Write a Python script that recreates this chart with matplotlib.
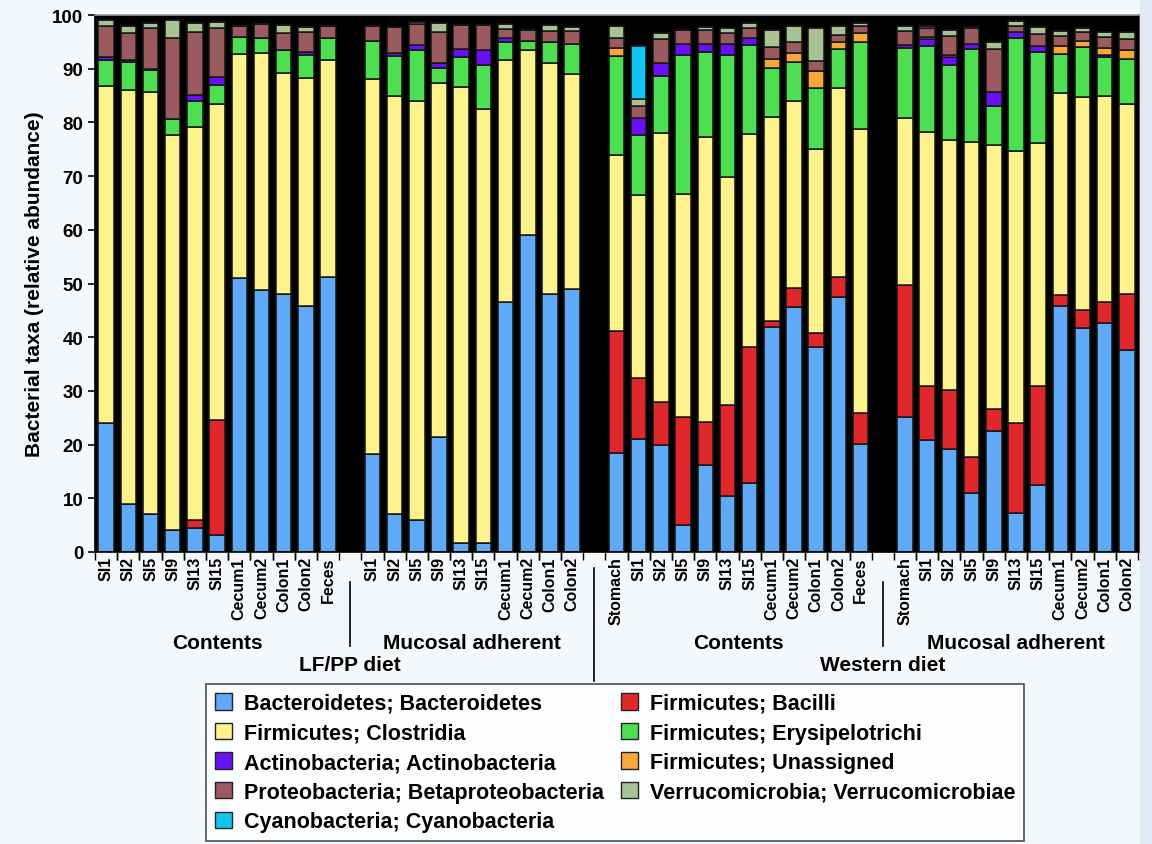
import numpy as np
import matplotlib
matplotlib.use('Agg')
import matplotlib.pyplot as plt
from matplotlib.patches import Rectangle, Patch
from matplotlib.transforms import blended_transform_factory

plt.rcParams['font.family'] = ['Liberation Sans', 'DejaVu Sans']
plt.rcParams['font.weight'] = 'bold'
plt.rcParams['axes.labelweight'] = 'bold'

# sample order: LF/PP contents | LF/PP mucosal | Western contents | Western mucosal
LF_CONT = ['SI1', 'SI2', 'SI5', 'SI9', 'SI13', 'SI15', 'Cecum1', 'Cecum2', 'Colon1', 'Colon2', 'Feces']
LF_MUC = ['SI1', 'SI2', 'SI5', 'SI9', 'SI13', 'SI15', 'Cecum1', 'Cecum2', 'Colon1', 'Colon2']
W_CONT = ['Stomach', 'SI1', 'SI2', 'SI5', 'SI9', 'SI13', 'SI15', 'Cecum1', 'Cecum2', 'Colon1', 'Colon2', 'Feces']
W_MUC = ['Stomach', 'SI1', 'SI2', 'SI5', 'SI9', 'SI13', 'SI15', 'Cecum1', 'Cecum2', 'Colon1', 'Colon2']

# relative abundance (%) per taxon, same sample order as above
bacteroidetes = [24.0, 9.0, 7.0, 4.0, 4.4, 3.2, 51.0, 48.7, 48.0, 45.8, 51.3,
                 18.2, 7.1, 6.0, 21.4, 1.6, 1.6, 46.6, 59.0, 48.0, 49.0,
                 18.5, 21.0, 20.0, 5.1, 16.2, 10.4, 12.8, 41.9, 45.7, 38.1, 47.5, 20.1,
                 25.1, 20.9, 19.2, 11.0, 22.6, 7.2, 12.4, 45.8, 41.8, 42.7, 37.7]
bacilli = [0, 0, 0, 0, 1.6, 21.3, 0, 0, 0, 0, 0,
           0, 0, 0, 0, 0, 0, 0, 0, 0, 0,
           22.6, 11.4, 7.9, 20.0, 8.0, 17.0, 25.3, 1.2, 3.4, 2.6, 3.7, 5.8,
           24.6, 10.0, 10.9, 6.6, 4.0, 16.9, 18.5, 2.0, 3.2, 3.9, 10.4]
clostridia = [62.7, 77.1, 78.6, 73.7, 73.1, 58.9, 41.7, 44.2, 41.3, 42.5, 40.3,
              69.9, 77.9, 78.0, 65.9, 85.0, 80.9, 45.0, 34.5, 43.1, 40.0,
              32.8, 34.0, 50.1, 41.6, 53.0, 42.5, 39.7, 38.0, 34.9, 34.3, 35.3, 52.9,
              31.1, 47.3, 46.7, 58.8, 49.2, 50.6, 45.3, 37.6, 39.8, 38.3, 35.3]
erysipelotrichi = [4.9, 5.2, 4.2, 3.0, 4.9, 3.6, 3.3, 2.9, 4.1, 4.3, 4.1,
                   7.1, 7.3, 9.5, 2.9, 5.6, 8.2, 3.4, 1.7, 3.8, 5.7,
                   18.4, 11.3, 10.6, 25.9, 16.0, 22.7, 16.6, 9.1, 7.3, 11.5, 7.2, 16.1,
                   13.0, 16.1, 13.9, 17.3, 7.3, 21.1, 16.9, 7.3, 9.2, 7.2, 8.5]
actinobacteria = [0.6, 0.4, 0.2, 0, 1.1, 1.4, 0, 0, 0, 0.5, 0,
                  0, 0.6, 0.9, 0.8, 1.5, 2.7, 0.8, 0, 0, 0,
                  0, 3.1, 2.4, 2.0, 1.4, 2.0, 1.3, 0, 0, 0, 0, 0,
                  0.6, 1.2, 1.4, 1.0, 2.5, 1.1, 1.1, 0, 0, 0.5, 0]
unassigned = [0, 0, 0, 0, 0, 0, 0, 0, 0, 0, 0,
              0, 0, 0, 0, 0, 0, 0, 0, 0, 0,
              1.5, 0, 0, 0, 0, 0, 0, 1.6, 1.6, 3.0, 1.3, 1.8,
              0, 0.4, 0.5, 0, 0, 0, 0, 1.6, 1.2, 1.3, 1.6]
betaproteo = [5.7, 5.0, 7.6, 15.1, 11.7, 9.2, 2.0, 2.6, 3.2, 3.7, 2.3,
              2.8, 4.9, 3.9, 5.9, 4.4, 4.7, 1.6, 2.0, 2.2, 2.3,
              2.0, 2.3, 4.5, 2.6, 2.6, 2.0, 1.8, 2.3, 2.0, 2.0, 1.3, 1.3,
              2.7, 1.6, 3.5, 2.8, 8.0, 1.1, 2.3, 1.8, 1.6, 2.0, 2.0]
verrucomicrobiae = [1.2, 1.3, 1.0, 3.3, 1.7, 1.1, 0, 0, 1.5, 1.0, 0,
                    0, 0, 0.4, 1.6, 0, 0, 0.9, 0, 1.0, 0.8,
                    2.1, 1.3, 1.1, 0, 0.6, 0.9, 1.1, 3.2, 3.0, 6.0, 1.7, 0.6,
                    0.8, 0.4, 1.1, 0.3, 1.4, 0.9, 1.2, 1.0, 0.7, 1.0, 1.4]
cyanobacteria = [0] * 11 + [0] * 10 + [0, 9.9] + [0] * 10 + [0] * 11

# bottom -> top stacking order
STACK = [('Bacteroidetes; Bacteroidetes', bacteroidetes, '#5fa9f6'),
         ('Firmicutes; Bacilli', bacilli, '#e0282c'),
         ('Firmicutes; Clostridia', clostridia, '#fdf28c'),
         ('Firmicutes; Erysipelotrichi', erysipelotrichi, '#4ede52'),
         ('Actinobacteria; Actinobacteria', actinobacteria, '#6910f6'),
         ('Firmicutes; Unassigned', unassigned, '#f9a73b'),
         ('Proteobacteria; Betaproteobacteria', betaproteo, '#9a5b5f'),
         ('Verrucomicrobia; Verrucomicrobiae', verrucomicrobiae, '#a9c293'),
         ('Cyanobacteria; Cyanobacteria', cyanobacteria, '#13c4f2')]
COL = {name: c for name, _, c in STACK}

groups = [LF_CONT, LF_MUC, W_CONT, W_MUC]
starts = [0, 12, 23, 36]   # one empty pair of slots between groups
xpos, labels = [], []
for g, s in zip(groups, starts):
    xpos += list(range(s, s + len(g)))
    labels += g
xpos = np.array(xpos, dtype=float)

fig = plt.figure(figsize=(11.52, 8.45), dpi=100, facecolor='#f5f8fb')
fig.patches.append(Rectangle((0.99, 0), 0.01, 1, transform=fig.transFigure,
                             color='#e2ebf5', zorder=0))
ax = fig.add_axes([0.0825, 0.3456, 0.9063, 0.6354])
ax.set_facecolor('black')

bottom = np.zeros(len(xpos))
for name, vals, c in STACK:
    v = np.array(vals, dtype=float)
    ax.bar(xpos, v, bottom=bottom, width=0.7, color=c, edgecolor='#151515', lw=1.1)
    bottom += v

ax.set_xlim(-0.4, 46.55)
ax.set_ylim(0, 100)
ax.set_yticks(range(0, 101, 10))
ax.tick_params(axis='y', labelsize=13.5, length=5, width=1.2)
ax.set_xticks(xpos)
ax.set_xticklabels(labels, rotation=90, fontsize=11.5)
ax.tick_params(axis='x', which='major', length=0, pad=3)
ax.set_xticks(np.concatenate([xpos - 0.5, xpos + 0.5]), minor=True)
ax.tick_params(axis='x', which='minor', length=6, width=1.0)
for sp in ax.spines.values():
    sp.set_color('black')
    sp.set_linewidth(1.2)
ax.spines['top'].set_color('#999999')
ax.set_ylabel('Bacterial taxa (relative abundance)', fontsize=15, labelpad=6)

# group labels and separators under the axis
tr = blended_transform_factory(ax.transData, ax.transAxes)
for x in (11, 35):
    ax.plot([x, x], [-0.056, -0.175], color='black', lw=1.2, transform=tr, clip_on=False)
ax.plot([22, 22], [-0.030, -0.240], color='black', lw=1.2, transform=tr, clip_on=False)
for x, txt in [(5, 'Contents'), (16.5, 'Mucosal adherent'), (28.5, 'Contents'), (41, 'Mucosal adherent')]:
    ax.text(x, -0.168, txt, transform=tr, ha='center', va='center', fontsize=15)
for x, txt in [(11, 'LF/PP diet'), (35, 'Western diet')]:
    ax.text(x, -0.209, txt, transform=tr, ha='center', va='center', fontsize=15)

order = ['Bacteroidetes; Bacteroidetes', 'Firmicutes; Clostridia',
         'Actinobacteria; Actinobacteria', 'Proteobacteria; Betaproteobacteria',
         'Cyanobacteria; Cyanobacteria', 'Firmicutes; Bacilli',
         'Firmicutes; Erysipelotrichi', 'Firmicutes; Unassigned',
         'Verrucomicrobia; Verrucomicrobiae']
handles = [Patch(facecolor=COL[n], edgecolor='#222222', lw=1.0, label=n) for n in order]
leg = fig.legend(handles=handles, loc='upper center', bbox_to_anchor=(0.534, 0.189),
                 ncol=2, fontsize=15.5, frameon=True, fancybox=False, edgecolor='#222222',
                 handlelength=0.8, handleheight=0.8, handletextpad=0.55,
                 labelspacing=0.4, columnspacing=0.8, borderpad=0.4, borderaxespad=0)
leg.get_frame().set_linewidth(1.2)
leg.get_frame().set_facecolor('white')

fig.savefig('out.png', dpi=100, facecolor=fig.get_facecolor())
